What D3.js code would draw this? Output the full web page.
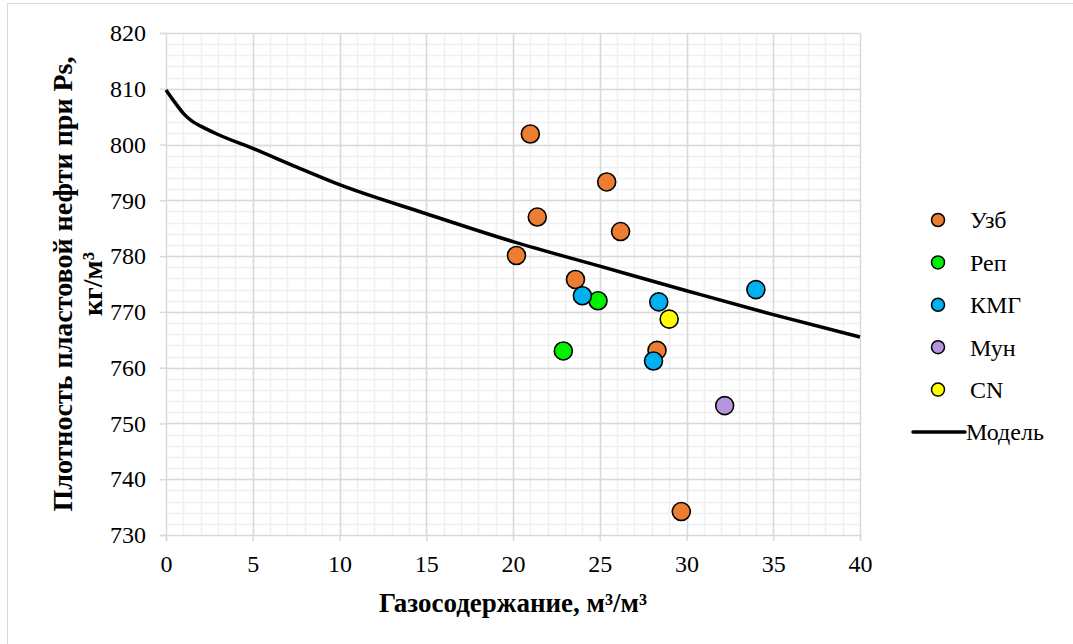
<!DOCTYPE html>
<html>
<head>
<meta charset="utf-8">
<script src="https://cdn.jsdelivr.net/npm/d3@7"></script>
<style>
  html, body { margin: 0; padding: 0; background: #fff; }
  svg { display: block; }
  svg text { font-family: "Times New Roman", "Liberation Serif", Times, "DejaVu Serif", serif !important; fill: #000; }
</style>
</head>
<body>
<svg id="chart" width="1073" height="644"></svg>
<script>
// Measured samples, gas content (m³/m³) vs reservoir oil density (kg/m³)
const uzbX = [21.0, 25.4, 21.4, 26.2, 20.2, 23.6, 28.3, 29.7];
const uzbY = [801.9, 793.3, 787.0, 784.4, 780.1, 775.8, 763.1, 734.2];
const repX = [24.9, 22.9];
const repY = [772.0, 763.0];
const kmgX = [24.0, 28.4, 28.1, 34.0];
const kmgY = [772.9, 771.8, 761.2, 774.0];
const munX = [32.2];
const munY = [753.2];
const cnX = [29.0];
const cnY = [768.7];

// Model curve
const modelX = [0, 0.5, 1, 1.5, 2, 3, 5, 7.5, 10, 15, 20, 25, 30, 35, 40];
const modelY = [809.8, 807.6, 805.6, 804.2, 803.3, 801.8, 799.3, 796.0, 792.8, 787.6, 782.6, 778.2, 773.8, 769.5, 765.5];

const xTicks = [0, 5, 10, 15, 20, 25, 30, 35, 40];
const yTicks = [730, 740, 750, 760, 770, 780, 790, 800, 810, 820];

const seriesNames = ["Узб", "Реп", "КМГ", "Мун", "CN"];
const seriesColors = ["#ED7D31", "#00F000", "#00B0F0", "#B794DE", "#FFFF00"];
const modelName = "Модель";
const xTitle = "Газосодержание, м³/м³";
const yTitle1 = "Плотность пластовой нефти при Ps,";
const yTitle2 = "кг/м³";

const FONT = '"Times New Roman", "Liberation Serif", Times, "DejaVu Serif", serif';

const series = [
  { name: seriesNames[0], color: seriesColors[0], xs: uzbX, ys: uzbY },
  { name: seriesNames[1], color: seriesColors[1], xs: repX, ys: repY },
  { name: seriesNames[2], color: seriesColors[2], xs: kmgX, ys: kmgY },
  { name: seriesNames[3], color: seriesColors[3], xs: munX, ys: munY },
  { name: seriesNames[4], color: seriesColors[4], xs: cnX, ys: cnY }
];

const svg = d3.select("#chart");
const plot = { left: 166, right: 860, top: 33, bottom: 535 };

const x = d3.scaleLinear().domain([0, 40]).range([plot.left, plot.right]);
const y = d3.scaleLinear().domain([730, 820]).range([plot.bottom, plot.top]);

// chart frame
svg.append("rect")
  .attr("x", 7.5).attr("y", 3.5)
  .attr("width", 1100).attr("height", 700)
  .attr("fill", "#fff").attr("stroke", "#d9d9d9").attr("stroke-width", 1);

// minor grid
const g = svg.append("g");
g.selectAll("line.vminor").data(d3.range(1, 40)).join("line")
  .attr("x1", d => Math.round(x(d)) + 0.5).attr("x2", d => Math.round(x(d)) + 0.5)
  .attr("y1", plot.top).attr("y2", plot.bottom)
  .attr("stroke", "#f0f0f0").attr("stroke-width", 1.5);
g.selectAll("line.hminor").data(d3.range(732, 820, 2)).join("line")
  .attr("y1", d => Math.round(y(d)) + 0.5).attr("y2", d => Math.round(y(d)) + 0.5)
  .attr("x1", plot.left).attr("x2", plot.right)
  .attr("stroke", "#f0f0f0").attr("stroke-width", 1.5);

// major grid
g.selectAll("line.vmajor").data(xTicks.slice(1)).join("line")
  .attr("x1", d => Math.round(x(d)) + 0.5).attr("x2", d => Math.round(x(d)) + 0.5)
  .attr("y1", plot.top).attr("y2", plot.bottom)
  .attr("stroke", "#d9d9d9").attr("stroke-width", 1.5);
g.selectAll("line.hmajor").data(yTicks.slice(1)).join("line")
  .attr("y1", d => Math.round(y(d)) + 0.5).attr("y2", d => Math.round(y(d)) + 0.5)
  .attr("x1", plot.left).attr("x2", plot.right)
  .attr("stroke", "#d9d9d9").attr("stroke-width", 1.5);

// axes
const xAxis = d3.axisBottom(x).tickValues(xTicks).tickSize(6).tickPadding(14).tickFormat(d3.format("d"));
const yAxis = d3.axisLeft(y).tickValues(yTicks).tickSize(6).tickPadding(14).tickFormat(d3.format("d"));

const gx = svg.append("g").attr("transform", `translate(0,${plot.bottom})`).call(xAxis);
const gy = svg.append("g").attr("transform", `translate(${plot.left},0)`).call(yAxis);
[gx, gy].forEach(a => {
  a.attr("font-family", FONT).attr("font-size", 24);
  a.select(".domain").attr("stroke", "#d9d9d9").attr("stroke-width", 1.5);
  a.selectAll(".tick line").attr("stroke", "#d9d9d9").attr("stroke-width", 1.5);
  a.selectAll(".tick text").style("font-family", FONT).style("font-size", "24px").attr("fill", "#000");
});

// model curve
const line = d3.line()
  .x(d => x(d[0])).y(d => y(d[1]))
  .curve(d3.curveMonotoneX);
svg.append("path")
  .datum(modelX.map((v, i) => [v, modelY[i]]))
  .attr("d", line)
  .attr("fill", "none").attr("stroke", "#000").attr("stroke-width", 3.5)
  .attr("stroke-linejoin", "round");

// sample points
series.forEach(s => {
  svg.append("g").selectAll("circle")
    .data(s.xs.map((v, i) => [v, s.ys[i]]))
    .join("circle")
    .attr("cx", d => x(d[0])).attr("cy", d => y(d[1]))
    .attr("r", 9)
    .attr("fill", s.color).attr("stroke", "#000").attr("stroke-width", 1.6);
});

// legend
const legend = svg.append("g");
const legY0 = 220, legStep = 42.4;
series.forEach((s, i) => {
  const yy = legY0 + i * legStep;
  legend.append("circle")
    .attr("cx", 938).attr("cy", yy).attr("r", 6.5)
    .attr("fill", s.color).attr("stroke", "#000").attr("stroke-width", 1.5);
  legend.append("text")
    .attr("x", 970).attr("y", yy).attr("dy", "0.35em")
    .style("font-family", FONT).style("font-size", "24px").text(s.name);
});
const modelLegY = legY0 + 5 * legStep;
legend.append("line")
  .attr("x1", 913).attr("x2", 965)
  .attr("y1", modelLegY).attr("y2", modelLegY)
  .attr("stroke", "#000").attr("stroke-width", 3.5).attr("stroke-linecap", "round");
legend.append("text")
  .attr("x", 966).attr("y", modelLegY).attr("dy", "0.35em")
  .style("font-family", FONT).style("font-size", "24px").text(modelName);

// axis titles
svg.append("text")
  .attr("x", (plot.left + plot.right) / 2).attr("y", 612)
  .attr("text-anchor", "middle")
  .style("font-family", FONT).style("font-size", "27px").style("font-weight", "bold")
  .text(xTitle);

const yt = svg.append("text")
  .attr("transform", `translate(0,${(plot.top + plot.bottom) / 2}) rotate(-90)`)
  .attr("text-anchor", "middle")
  .style("font-family", FONT).style("font-size", "28px").style("font-weight", "bold");
yt.append("tspan").attr("x", 0).attr("y", 72).text(yTitle1);
yt.append("tspan").attr("x", 0).attr("y", 102).text(yTitle2);
</script>
</body>
</html>
